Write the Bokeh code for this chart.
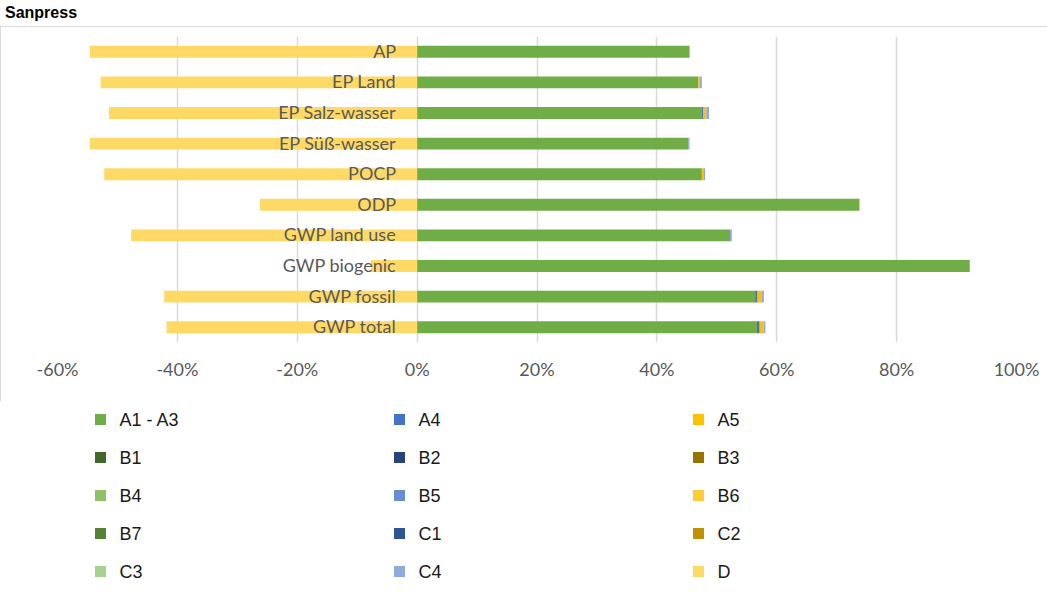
from bokeh.plotting import figure
from bokeh.models import Range1d, FactorRange, FixedTicker, PrintfTickFormatter, ColumnDataSource, Div
from bokeh.layouts import column
from bokeh.core.properties import value
from bokeh.embed import file_html
from bokeh.resources import INLINE

# ---------------- data ----------------
title_text = "Sanpress"
categories = ["AP", "EP Land", "EP Salz-wasser", "EP Süß-wasser", "POCP", "ODP",
              "GWP land use", "GWP biogenic", "GWP fossil", "GWP total"]

series_names = ["A1 - A3", "A4", "A5", "B1", "B2", "B3", "B4", "B5", "B6", "B7",
                "C1", "C2", "C3", "C4", "D"]
series_colors = ["#70AD47", "#4472C4", "#FFC000", "#43682B", "#264478", "#997300",
                 "#8CC168", "#698ED0", "#FFCD33", "#548235", "#2F5597", "#BF9000",
                 "#A9D18E", "#8FAADC", "#FFD966"]

# values in percent
a1_a3 = [45.4, 46.9, 47.5, 45.3, 47.4, 73.8, 52.2, 92.2, 56.4, 56.7]
a4 = [0.0, 0.0, 0.2, 0.0, 0.1, 0.0, 0.0, 0.0, 0.4, 0.45]
a5 = [0.0, 0.3, 0.55, 0.0, 0.25, 0.0, 0.0, 0.0, 0.65, 0.65]
b1 = [0.0] * 10
b2 = [0.0] * 10
b3 = [0.0] * 10
b4 = [0.0] * 10
b5 = [0.0] * 10
b6 = [0.0] * 10
b7 = [0.0] * 10
c1 = [0.0] * 10
c2 = [0.0] * 10
c3 = [0.0] * 10
c4 = [0.1, 0.3, 0.45, 0.15, 0.3, 0.0, 0.3, 0.0, 0.4, 0.3]
d = [-54.6, -52.8, -51.4, -54.6, -52.2, -26.2, -47.7, -7.7, -42.2, -41.8]

tick_values = [-60, -40, -20, 0, 20, 40, 60, 80, 100]

series_values = [a1_a3, a4, a5, b1, b2, b3, b4, b5, b6, b7, c1, c2, c3, c4, d]

# ---------------- chart ----------------
data = {"category": categories}
for n, v in zip(series_names, series_values):
    data[n] = v
source = ColumnDataSource(data)

GRAY = "#595959"
BAR_H = 0.39
W = 1047
ML, MR = 56, 32

p = figure(width=W, height=375,
           y_range=FactorRange(factors=categories[::-1]),
           x_range=Range1d(-60, 100),
           output_backend="svg", toolbar_location=None,
           min_border_left=ML, min_border_right=MR,
           min_border_top=9, min_border_bottom=60)
p.outline_line_color = None
p.background_fill_color = "white"
p.border_fill_color = "white"
p.yaxis.visible = False
p.ygrid.visible = False

p.xaxis.ticker = FixedTicker(ticks=tick_values)
p.xaxis.formatter = PrintfTickFormatter(format="%d%%")
p.xaxis.axis_line_color = None
p.xaxis.major_tick_line_color = None
p.xaxis.major_tick_out = 0
p.xaxis.major_tick_in = 0
p.xaxis.minor_tick_line_color = None
p.xaxis.major_label_standoff = 15
p.xaxis.major_label_text_font = "Lato"
p.xaxis.major_label_text_font_size = "18px"
p.xaxis.major_label_text_color = GRAY

p.xgrid.grid_line_color = "#d9d9d9"
p.xgrid.grid_line_width = 1.5

pos_names = series_names[:-1]
pos_colors = series_colors[:-1]
p.hbar_stack(stackers=pos_names, y="category", height=BAR_H, color=pos_colors,
             line_color=None, source=source)
p.hbar(y="category", left="D", right=0, height=BAR_H, color=series_colors[-1],
       line_color=None, source=source)

p.text(x=0, y="category", text="category", source=source, x_offset=-21, y_offset=-1,
       text_align="right", text_baseline="middle",
       text_font=value("Lato"), text_font_size="18px", text_color=GRAY)

p.styles = {"border-top": "1px solid #d9d9d9", "border-left": "1px solid #d9d9d9"}

# ---------------- legend ----------------
# the legend figure's frame is aligned with the chart frame (page x 57..1016)
LEG_H = 184
FX0, FX1 = 57, 1016
leg = figure(width=W, height=LEG_H, x_range=Range1d(FX0, FX1), y_range=Range1d(LEG_H, 0),
             output_backend="svg", toolbar_location=None,
             min_border_left=ML, min_border_right=MR, min_border_top=0, min_border_bottom=0)
leg.axis.visible = False
leg.grid.visible = False
leg.outline_line_color = None

sw_x = [101 + 299 * (i % 3) for i in range(len(series_names))]
sw_y = [18 + 38 * (i // 3) for i in range(len(series_names))]
leg_src = ColumnDataSource(dict(x=sw_x, y=sw_y, tx=[x + 19 for x in sw_x],
                                name=series_names, color=series_colors))
leg.scatter(x="x", y="y", marker="square", size=11, color="color", line_color=None, source=leg_src)
leg.text(x="tx", y="y", text="name", source=leg_src, text_baseline="middle", text_align="left",
         text_font=value("Liberation Sans"), text_font_size="18px", text_color="#1a1a1a")

title = Div(text=title_text, width=300, height=16,
            styles={"font-family": "Liberation Sans, Arial, sans-serif", "font-weight": "bold",
                    "font-size": "16px", "line-height": "16px", "color": "#000"})

layout = column(title, p, leg)
open("out.html", "w").write(file_html(layout, INLINE))
